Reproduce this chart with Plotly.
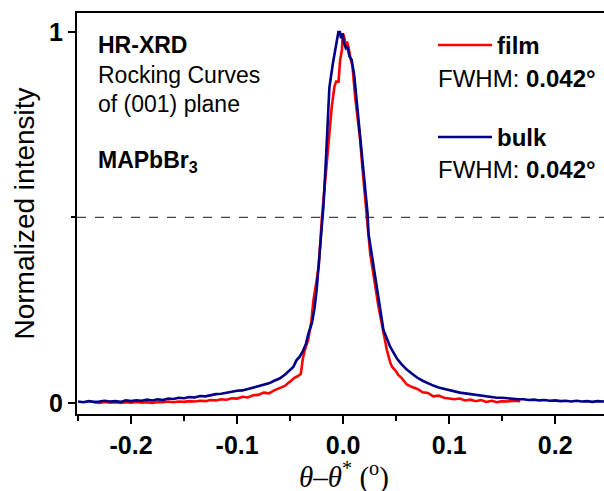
import plotly.graph_objects as go

# ---- data ----
bulk_theta = [
    -0.250, -0.245, -0.240, -0.235, -0.230, -0.225, -0.220, -0.215, -0.210, -0.205,
    -0.200, -0.195, -0.190, -0.185, -0.180, -0.175, -0.170, -0.165, -0.160, -0.155,
    -0.150, -0.145, -0.140, -0.135, -0.130, -0.125, -0.120, -0.115, -0.110, -0.105,
    -0.100, -0.095, -0.090, -0.085, -0.080, -0.075, -0.070, -0.065, -0.060, -0.055,
    -0.050, -0.047, -0.044, -0.041, -0.038, -0.035, -0.033, -0.0295, -0.027, -0.025,
    -0.022, -0.0195, -0.0186, -0.016, -0.013, -0.0097, -0.0075, -0.006, -0.0045, -0.003,
    -0.002, -0.0006, 0.001, 0.0025, 0.004, 0.006, 0.008, 0.0104, 0.0129, 0.016,
    0.0198, 0.023, 0.0239, 0.0286, 0.0333, 0.038, 0.0443, 0.0507, 0.055, 0.060,
    0.065, 0.070, 0.075, 0.080, 0.085, 0.090, 0.095, 0.100, 0.105, 0.110,
    0.115, 0.120, 0.125, 0.130, 0.135, 0.140, 0.145, 0.150, 0.155, 0.160,
    0.165, 0.170, 0.175, 0.180, 0.185, 0.190, 0.195, 0.200, 0.205, 0.210,
    0.215, 0.220, 0.225, 0.230, 0.235, 0.240, 0.246,
]
bulk_intensity = [
    0.004, 0.002, 0.005, 0.003, 0.004, 0.006, 0.004, 0.005, 0.003, 0.007,
    0.005, 0.007, 0.006, 0.009, 0.007, 0.010, 0.008, 0.012, 0.011, 0.014,
    0.013, 0.016, 0.015, 0.019, 0.018, 0.022, 0.024, 0.025, 0.028, 0.029,
    0.033, 0.034, 0.038, 0.040, 0.045, 0.049, 0.053, 0.060, 0.066, 0.076,
    0.090, 0.097, 0.115, 0.125, 0.140, 0.160, 0.185, 0.215, 0.255, 0.305,
    0.410, 0.500, 0.530, 0.670, 0.850, 0.915, 0.956, 0.978, 1.000, 1.000,
    0.983, 0.996, 0.969, 0.956, 0.960, 0.934, 0.925, 0.884, 0.809, 0.718,
    0.620, 0.512, 0.457, 0.367, 0.278, 0.197, 0.152, 0.120, 0.105, 0.090,
    0.079, 0.068, 0.060, 0.053, 0.047, 0.042, 0.038, 0.034, 0.031, 0.028,
    0.026, 0.024, 0.021, 0.020, 0.017, 0.016, 0.014, 0.014, 0.012, 0.011,
    0.010, 0.010, 0.008, 0.009, 0.007, 0.008, 0.006, 0.007, 0.005, 0.006,
    0.004, 0.006, 0.004, 0.005, 0.003, 0.005, 0.004,
]

film_theta = [
    -0.235, -0.230, -0.225, -0.220, -0.215, -0.210, -0.205, -0.200, -0.195, -0.190,
    -0.185, -0.180, -0.175, -0.170, -0.165, -0.160, -0.155, -0.150, -0.145, -0.140,
    -0.135, -0.130, -0.125, -0.120, -0.115, -0.110, -0.105, -0.100, -0.095, -0.090,
    -0.085, -0.080, -0.075, -0.070, -0.065, -0.060, -0.055, -0.050, -0.046, -0.043,
    -0.040, -0.039, -0.038, -0.036, -0.033, -0.030, -0.028, -0.025, -0.023, -0.020,
    -0.0154, -0.0107, -0.0082, -0.0066, -0.0044, -0.0028, -0.0012, -0.0003, 0.001, 0.0022,
    0.0035, 0.005, 0.0066, 0.0088, 0.0113, 0.0129, 0.016, 0.0186, 0.0217, 0.0255,
    0.0333, 0.038, 0.0412, 0.0443, 0.046, 0.050, 0.0522, 0.055, 0.060, 0.065,
    0.070, 0.075, 0.080, 0.085, 0.090, 0.095, 0.100, 0.105, 0.110, 0.115,
    0.120, 0.125, 0.130, 0.135, 0.140, 0.145, 0.150, 0.155, 0.160, 0.167,
]
film_intensity = [
    0.002, 0.000, 0.003, 0.001, 0.002, 0.000, 0.002, 0.001, 0.003, 0.001,
    0.002, 0.000, 0.003, 0.002, 0.004, 0.002, 0.004, 0.003, 0.005, 0.004,
    0.006, 0.005, 0.008, 0.007, 0.010, 0.009, 0.013, 0.012, 0.017, 0.015,
    0.021, 0.022, 0.028, 0.026, 0.034, 0.040, 0.046, 0.058, 0.068, 0.072,
    0.078, 0.098, 0.120, 0.145, 0.170, 0.220, 0.278, 0.330, 0.370, 0.500,
    0.655, 0.800, 0.853, 0.866, 0.866, 0.925, 0.951, 0.996, 0.987, 0.960,
    0.974, 0.960, 0.934, 0.907, 0.826, 0.790, 0.710, 0.620, 0.520, 0.403,
    0.260, 0.188, 0.143, 0.110, 0.098, 0.085, 0.075, 0.068, 0.050, 0.043,
    0.038, 0.029, 0.027, 0.018, 0.020, 0.014, 0.013, 0.010, 0.012, 0.007,
    0.009, 0.005, 0.008, 0.003, 0.006, 0.002, 0.005, 0.004, 0.006, 0.005,
]

x_tick_vals = [-0.2, -0.1, 0.0, 0.1, 0.2]
x_tick_text = ["-0.2", "-0.1", "0.0", "0.1", "0.2"]
y_tick_vals = [0, 1]
y_tick_text = ["0", "1"]
half_max = 0.5

FILM_COLOR = "#ff0000"
BULK_COLOR = "#000088"

fig = go.Figure()
fig.add_trace(go.Scatter(x=film_theta, y=film_intensity, mode="lines", name="film",
                         line=dict(color=FILM_COLOR, width=2.6), showlegend=False))
fig.add_trace(go.Scatter(x=bulk_theta, y=bulk_intensity, mode="lines", name="bulk",
                         line=dict(color=BULK_COLOR, width=2.6), showlegend=False))

fig.add_shape(type="line", xref="paper", yref="y", x0=0, x1=1, y0=half_max, y1=half_max,
              line=dict(color="#444444", width=1.3, dash="dash"), layer="below")

L, T, B = 77, 13, 414
W, H = 604 - L, B - T

def px_x(px):
    return (px - L) / W

def px_y(py):
    return (B - py) / H

# legend-like keys
fig.add_shape(type="line", xref="paper", yref="paper", x0=px_x(438), x1=px_x(492),
              y0=px_y(45), y1=px_y(45), line=dict(color=FILM_COLOR, width=2.6))
fig.add_shape(type="line", xref="paper", yref="paper", x0=px_x(438), x1=px_x(492),
              y0=px_y(137), y1=px_y(137), line=dict(color=BULK_COLOR, width=2.6))

FONT = "Liberation Sans, Arial, sans-serif"

def ann(text, px, py, size=22, family=FONT, xanchor="left"):
    fig.add_annotation(text=text, xref="paper", yref="paper",
                       x=px_x(px), y=px_y(py), xanchor=xanchor, yanchor="middle",
                       showarrow=False, font=dict(family=family, size=size, color="black"))

ann("<b>HR-XRD</b>", 96, 45, 23)
ann("Rocking Curves", 96, 75, 23)
ann("of (001) plane", 96, 104, 23)
ann("<b>MAPbBr<sub>3</sub></b>", 96, 162, 23)
ann("<b>film</b>", 495, 45, 24)
ann("FWHM: <b>0.042°</b>", 436, 79, 24)
ann("<b>bulk</b>", 495, 137, 24)
ann("FWHM: <b>0.042°</b>", 436, 169, 24)

# x-axis title
ann("<i>θ</i>–<i>θ</i><sup>*</sup> (<sup>o</sup>)", 344, 475, 29,
    family="Liberation Serif, Times New Roman, serif", xanchor="center")

fig.update_layout(
    width=604, height=491,
    margin=dict(l=L, r=0, t=T, b=491 - B, autoexpand=False),
    paper_bgcolor="white", plot_bgcolor="white",
    xaxis=dict(range=[-0.251, 0.246], tickvals=x_tick_vals, ticktext=x_tick_text,
               showgrid=False, zeroline=False, showline=True, linecolor="black", linewidth=2,
               mirror=True, ticks="outside", ticklen=8, tickwidth=2, tickcolor="black",
               minor=dict(dtick=0.05, tick0=0, ticks="outside", ticklen=5, tickwidth=2, tickcolor="black"),
               tickfont=dict(family=FONT, size=25, color="black", weight="bold")),
    yaxis=dict(range=[-0.0296, 1.051], tickvals=y_tick_vals, ticktext=y_tick_text,
               showgrid=False, zeroline=False, showline=True, linecolor="black", linewidth=2,
               mirror=False, ticks="outside", ticklen=7, tickwidth=2, tickcolor="black",
               minor=dict(tickvals=[0.5], ticks="outside", ticklen=4, tickwidth=2, tickcolor="black"),
               tickfont=dict(family=FONT, size=25, color="black", weight="bold"),
               title=dict(text="Normalized intensity",
                          font=dict(family=FONT, size=28, color="black"), standoff=6)),
)

fig.write_html("out.html", config={"displayModeBar": False},
               post_script="document.body.style.margin='0';document.body.style.padding='0';")
